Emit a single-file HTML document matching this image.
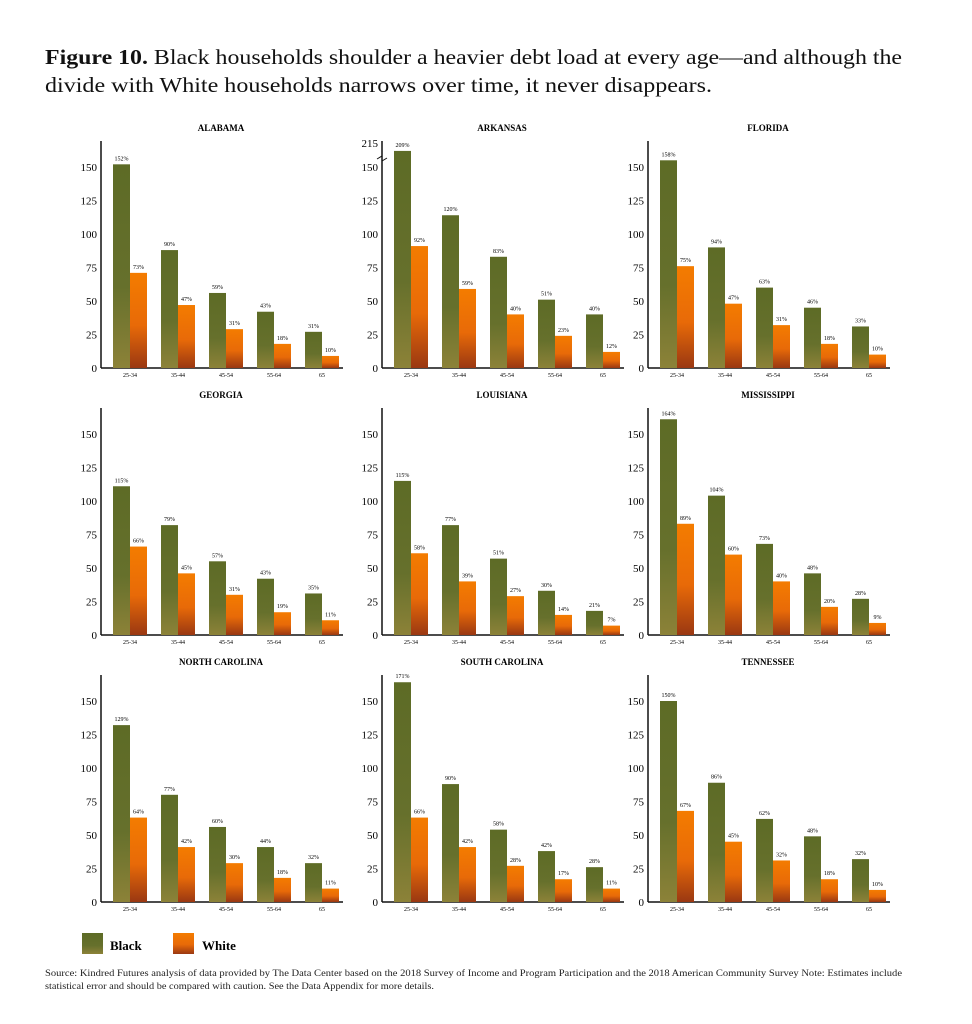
<!DOCTYPE html>
<html><head><meta charset="utf-8"><style>
body{margin:0;background:#fff;width:972px;height:1024px;overflow:hidden}
svg{display:block}
</style></head><body>
<svg id="s" width="972" height="1024" xmlns="http://www.w3.org/2000/svg" font-family="Liberation Serif, serif">
<defs>
<linearGradient id="gb" x1="0" y1="0" x2="0" y2="1"><stop offset="0" stop-color="#5d6b26"/><stop offset="0.6" stop-color="#66702c"/><stop offset="1" stop-color="#8c8238"/></linearGradient>
<linearGradient id="gw" x1="0" y1="0" x2="0" y2="1"><stop offset="0" stop-color="#f47c00"/><stop offset="0.55" stop-color="#e86a08"/><stop offset="1" stop-color="#9a3812"/></linearGradient>
</defs>
<text x="45" y="64" font-size="21" fill="#111" textLength="857" lengthAdjust="spacingAndGlyphs"><tspan font-weight="bold">Figure 10.</tspan> Black households shoulder a heavier debt load at every age—and although the</text>
<text x="45" y="92" font-size="21" fill="#111" textLength="667" lengthAdjust="spacingAndGlyphs">divide with White households narrows over time, it never disappears.</text>
<rect x="82" y="933" width="21" height="21" fill="url(#gb)"/>
<text x="110" y="950" font-size="13" font-weight="bold">Black</text>
<rect x="173" y="933" width="21" height="21" fill="url(#gw)"/>
<text x="202" y="950" font-size="13" font-weight="bold">White</text>
<text x="45" y="976" font-size="9.3" fill="#222" textLength="857" lengthAdjust="spacingAndGlyphs">Source: Kindred Futures analysis of data provided by The Data Center based on the 2018 Survey of Income and Program Participation and the 2018 American Community Survey Note: Estimates include</text>
<text x="45" y="989" font-size="9.3" fill="#222" textLength="389" lengthAdjust="spacingAndGlyphs">statistical error and should be compared with caution. See the Data Appendix for more details.</text>
<g id="g"></g>
</svg>
<script>
var P=[
["ALABAMA",[152,90,59,43,31],[73,47,31,18,10],[152,88,56,42,27],[71,47,29,18,9]],
["ARKANSAS",[209,120,83,51,40],[92,59,40,23,12],[162,114,83,51,40],[91,59,40,24,12]],
["FLORIDA",[158,94,63,46,33],[75,47,31,18,10],[155,90,60,45,31],[76,48,32,18,10]],
["GEORGIA",[115,79,57,43,35],[66,45,31,19,11],[111,82,55,42,31],[66,46,30,17,11]],
["LOUISIANA",[115,77,51,30,21],[58,39,27,14,7],[115,82,57,33,18],[61,40,29,15,7]],
["MISSISSIPPI",[164,104,73,48,28],[89,60,40,20,9],[161,104,68,46,27],[83,60,40,21,9]],
["NORTH CAROLINA",[129,77,60,44,32],[64,42,30,18,11],[132,80,56,41,29],[63,41,29,18,10]],
["SOUTH CAROLINA",[171,90,58,42,28],[66,42,28,17,11],[164,88,54,38,26],[63,41,27,17,10]],
["TENNESSEE",[150,86,62,48,32],[67,45,32,18,10],[150,89,62,49,32],[68,45,31,17,9]]];
var AX=[101,382,648],BY=[368,635,902],K=1.34,cats=["25-34","35-44","45-54","55-64","65"];
var h="";
P.forEach(function(p,i){
 var ax=AX[i%3],by=BY[Math.floor(i/3)];
 h+='<text x="'+(ax+120)+'" y="'+(by-237)+'" font-size="9" font-weight="bold" text-anchor="middle">'+p[0]+'</text>';
 h+='<line x1="'+ax+'" y1="'+(by-227)+'" x2="'+ax+'" y2="'+by+'" stroke="#111" stroke-width="1.5"/>';
 h+='<line x1="'+ax+'" y1="'+by+'" x2="'+(ax+242)+'" y2="'+by+'" stroke="#111" stroke-width="1.5"/>';
 for(var t=0;t<=150;t+=25){
  h+='<text x="'+(ax-4)+'" y="'+(by-t*K+4)+'" font-size="11" text-anchor="end">'+t+'</text>';}
 if(i==1){h+='<text x="'+(ax-4)+'" y="'+(by-221)+'" font-size="11" text-anchor="end">215</text>';
  h+='<path d="M'+(ax-5)+' '+(by-209)+' l5 -3 l0 5 l5 -3" stroke="#111" fill="none" stroke-width="1"/>';}
 for(var j=0;j<5;j++){
  var x=ax+12+48*j,hb=p[3][j]*K,hw=p[4][j]*K;
  h+='<rect x="'+x+'" y="'+(by-hb)+'" width="17" height="'+hb+'" fill="url(#gb)"/>';
  h+='<rect x="'+(x+17)+'" y="'+(by-hw)+'" width="17" height="'+hw+'" fill="url(#gw)"/>';
  h+='<text x="'+(x+8.5)+'" y="'+(by-hb-4)+'" font-size="6" text-anchor="middle">'+p[1][j]+'%</text>';
  h+='<text x="'+(x+25.5)+'" y="'+(by-hw-4)+'" font-size="6" text-anchor="middle">'+p[2][j]+'%</text>';
  h+='<text x="'+(x+17)+'" y="'+(by+9)+'" font-size="6" text-anchor="middle">'+cats[j]+'</text>';
 }
});
document.getElementById("g").innerHTML=h;
</script>
</body></html>
